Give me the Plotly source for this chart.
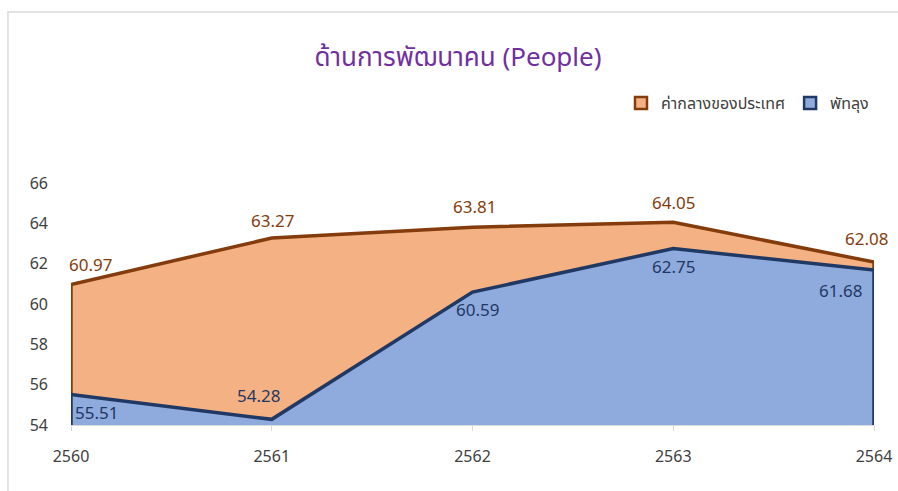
import plotly.graph_objects as go

# data
years = [2560, 2561, 2562, 2563, 2564]
national = [60.97, 63.27, 63.81, 64.05, 62.08]
phatthalung = [55.51, 54.28, 60.59, 62.75, 61.68]
y_ticks = [54, 56, 58, 60, 62, 64, 66]
names = ["ค่ากลางของประเทศ", "พัทลุง"]

base = 54
font_fam = "Noto Sans Thai, Noto Sans, DejaVu Sans, sans-serif"
fills = ["#F4B183", "#8FAADC"]
edges = ["#843C0C", "#203864"]
label_cols = ["#843C0C", "#1F3864"]

fig = go.Figure()

# areas: orange (national median) first, blue on top
for vals, fc, lc in zip([national, phatthalung], fills, edges):
    fig.add_trace(go.Scatter(
        x=[years[0]] + years + [years[-1]],
        y=[base] + vals + [base],
        mode="lines", fill="toself",
        fillcolor=fc, line=dict(color=lc, width=3.5),
        showlegend=False, hoverinfo="skip",
    ))

# legend entries with square swatches
for nm, fc, lc in zip(names, fills, edges):
    fig.add_trace(go.Scatter(
        x=[None], y=[None], mode="markers", name=nm,
        marker=dict(symbol="square", size=12, color=fc,
                    line=dict(color=lc, width=2.5)),
    ))

# data labels
nat_shift = [(19, 18), (1, 16), (2, 19), (0, 18), (-8, 22)]
pht_shift = [(25, -19), (-13, 22), (5, -19), (0, -19), (-34, -22)]
for vals, shifts, col in zip([national, phatthalung], [nat_shift, pht_shift], label_cols):
    for x, v, (dx, dy) in zip(years, vals, shifts):
        fig.add_annotation(x=x, y=v, text=f"{v:.2f}", showarrow=False,
                           xshift=dx, yshift=dy,
                           font=dict(size=17, color=col, family=font_fam))

# light outer chart border
fig.add_shape(type="rect", xref="paper", yref="paper",
              x0=-0.0785, x1=1.05, y0=-0.4, y1=1.707,
              line=dict(color="#D9D9D9", width=1.5), layer="below")

fig.update_layout(
    width=898, height=491,
    margin=dict(l=71, r=24, t=183, b=66, autoexpand=False),
    paper_bgcolor="white", plot_bgcolor="white",
    title=dict(text="ด้านการพัฒนาคน (People)",
               x=0.51, xanchor="center", y=0.884, yanchor="middle",
               font=dict(size=26, color="#7030A0", family=font_fam)),
    legend=dict(orientation="h", x=1.0, xanchor="right",
                y=1.33, yanchor="middle",
                font=dict(size=16, color="#404040", family=font_fam),
                bgcolor="rgba(0,0,0,0)", itemwidth=30),
    xaxis=dict(range=[years[0], years[-1]], tickvals=years,
               showgrid=False, zeroline=False, automargin=False,
               showline=True, linecolor="#D9D9D9", linewidth=1,
               ticks="outside", ticklen=5, tickcolor="#D9D9D9",
               ticklabelstandoff=12,
               tickfont=dict(size=16, color="#404040", family=font_fam)),
    yaxis=dict(range=[54, 66], tickvals=y_ticks,
               showgrid=False, zeroline=False, showline=False,
               automargin=False, ticklabelstandoff=22,
               tickfont=dict(size=16, color="#404040", family=font_fam)),
)

fig.write_html("out.html", config={"displayModeBar": False},
               post_script="document.body.style.margin='0';")
